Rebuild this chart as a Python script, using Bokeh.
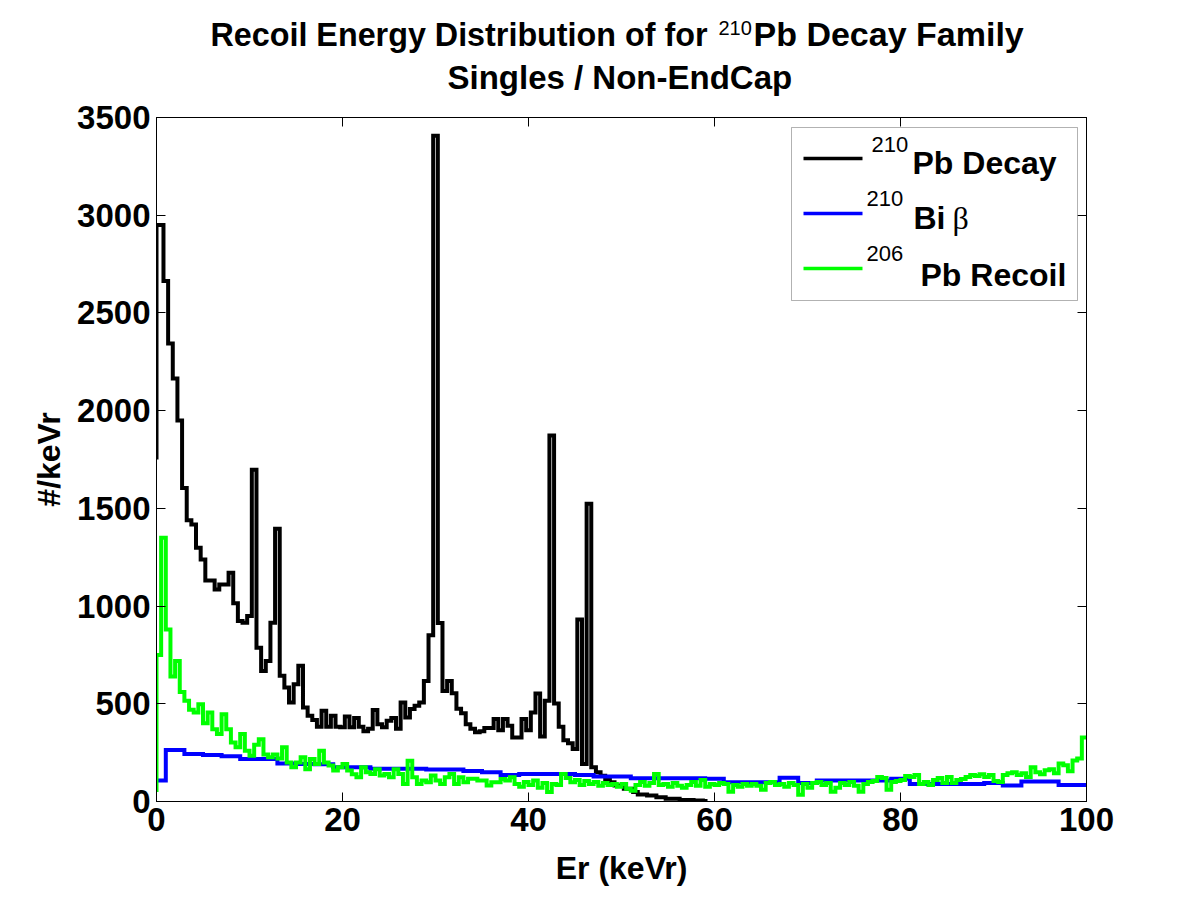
import numpy as np
from bokeh.plotting import figure
from bokeh.layouts import column
from bokeh.models import LinearAxis, FixedTicker, Label, BoxAnnotation, Range1d
from bokeh.core.properties import value
from bokeh.embed import file_html
from bokeh.resources import INLINE

FONT = "Liberation Sans"

# ---------------- data ----------------
# 210Pb decay: 0.5 keVr bins centred on 0, 0.5, 1.0, ... (first bin clipped at 0)
pb_decay_bin_width = 0.5
pb_decay_start = 1750
pb_decay_counts = [
    2950, 2950, 2663, 2343, 2165, 1949, 1604, 1439, 1417, 1298,
    1238, 1131, 1131, 1085, 1111, 1111, 1170, 1014, 923, 915,
    949, 1697, 787, 668, 719, 915, 1396, 643, 583, 507,
    600, 694, 481, 439, 417, 383, 464, 383, 439, 383,
    380, 435, 380, 427, 383, 359, 372, 468, 395, 380,
    413, 427, 372, 507, 430, 473, 490, 507, 617, 851,
    3406, 913, 566, 616, 554, 475, 452, 395, 372, 354,
    359, 376, 376, 422, 365, 422, 388, 328, 328, 422,
    365, 456, 553, 332, 515, 1873, 502, 383, 314, 298,
    269, 931, 192, 1524, 175, 150, 132, 115, 98, 82,
    82, 65, 65, 48, 36, 36, 31, 31, 22, 22,
    14, 14, 14, 8, 8, 8, 5, 5, 3,
]

# 210Bi beta: 2 keVr bins (first bin 0-1)
bi_beta_edges = [0, 1] + list(range(3, 100, 2)) + [100]
bi_beta_counts = [
    107, 264, 243, 238, 231, 218, 218, 195, 192, 190,
    175, 175, 167, 167, 167, 164, 164, 156, 150, 136,
    141, 141, 141, 136, 128, 128, 119, 119, 119, 119,
    116, 98, 98, 98, 121, 95, 107, 107, 107, 107,
    116, 90, 90, 90, 90, 95, 82, 102, 102, 85,
    85,
]

# 206Pb recoil: 0.5 keVr bins from 0 to 100
pb_recoil_bin_width = 0.5
pb_recoil_start = 48
pb_recoil_counts = [
    750, 1349, 880, 640, 719, 560, 515, 470, 455, 498,
    400, 455, 370, 345, 447, 370, 302, 277, 345, 260,
    234, 290, 319, 240, 226, 240, 220, 277, 200, 175,
    200, 226, 165, 218, 192, 260, 200, 184, 158, 175,
    192, 158, 140, 124, 175, 150, 141, 165, 133, 141,
    124, 165, 141, 90, 209, 124, 90, 107, 99, 133,
    107, 90, 124, 141, 90, 124, 99, 116, 116, 107,
    107, 82, 99, 99, 115, 107, 124, 90, 75, 100,
    85, 107, 70, 95, 48, 90, 85, 141, 120, 98,
    110, 85, 105, 90, 100, 80, 95, 85, 90, 75,
    90, 65, 55, 85, 100, 80, 95, 141, 85, 90,
    75, 95, 80, 70, 85, 100, 80, 110, 75, 90,
    85, 95, 90, 50, 85, 75, 90, 80, 90, 80,
    60, 95, 100, 85, 90, 75, 95, 85, 35, 90,
    70, 95, 100, 85, 95, 50, 70, 95, 85, 100,
    80, 50, 90, 100, 105, 125, 120, 60, 100, 105,
    110, 130, 125, 135, 90, 100, 85, 110, 120, 95,
    125, 95, 110, 115, 125, 135, 130, 140, 125, 135,
    105, 100, 135, 145, 150, 135, 145, 125, 175, 150,
    140, 160, 165, 145, 195, 185, 155, 210, 220, 328,
]

x_ticks = [0, 20, 40, 60, 80, 100]
y_ticks = [0, 500, 1000, 1500, 2000, 2500, 3000, 3500]
legend_labels = [("210", "Pb Decay"), ("210", "Bi "), ("206", " Pb Recoil")]
colors = ["#000000", "#0000ff", "#00ff00"]


def step_path(edges, counts, start=None):
    xs, ys = [], []
    if start is not None:
        xs.append(edges[0]); ys.append(start)
    for i, c in enumerate(counts):
        xs += [edges[i], edges[i + 1]]
        ys += [c, c]
    return xs, ys


n = len(pb_decay_counts)
pb_decay_edges = [0.0] + [pb_decay_bin_width * (k + 0.5) for k in range(n)]
m = len(pb_recoil_counts)
pb_recoil_edges = [pb_recoil_bin_width * k for k in range(m + 1)]

W = 1184
TITLE_H = 100
FRAME_LEFT, FRAME_W, FRAME_TOP, FRAME_H = 156, 930, 117, 684

# ---------------- title strip ----------------
# the column layout aligns this strip's frame with the main frame, so its
# x range is expressed in page pixels of that frame
t = figure(width=W, height=TITLE_H,
           x_range=Range1d(FRAME_LEFT, FRAME_LEFT + FRAME_W), y_range=Range1d(TITLE_H, 0),
           output_backend="svg", toolbar_location=None, min_border=0,
           min_border_left=FRAME_LEFT, min_border_right=W - FRAME_LEFT - FRAME_W,
           x_axis_location=None, y_axis_location=None)
t.grid.visible = False
t.outline_line_color = None


def ttext(txt, x, baseline, size_px, style="bold", align="left"):
    # glyph anchor compensated so that `baseline` is the text baseline
    t.text(x=[x], y=[baseline - 0.4 * size_px], text=[txt], text_font=value(FONT),
           text_font_size=f"{size_px}px", text_font_style=style, text_align=align,
           text_baseline="alphabetic", text_color="black")


ttext("Recoil Energy Distribution of for", 707, 47, 32.3, align="right")
ttext("210", 718, 35, 20, style="normal")
ttext("Pb Decay Family", 753, 47, 34)
ttext("Singles / Non-EndCap", 447, 90, 33)

# ---------------- main figure ----------------
p = figure(frame_width=FRAME_W, frame_height=FRAME_H,
           x_range=Range1d(0, 100), y_range=Range1d(0, 3500),
           output_backend="svg", toolbar_location=None,
           min_border_left=FRAME_LEFT, min_border_right=W - FRAME_LEFT - FRAME_W,
           min_border_top=FRAME_TOP - TITLE_H, min_border_bottom=80)
p.grid.visible = False
p.outline_line_color = "black"
p.background_fill_color = "white"
p.border_fill_color = "white"

lw = 4
xs, ys = step_path(pb_decay_edges, pb_decay_counts, pb_decay_start)
p.line(xs, ys, color=colors[0], line_width=lw, line_join="miter")
xs, ys = step_path(bi_beta_edges, bi_beta_counts)
p.line(xs, ys, color=colors[1], line_width=lw, line_join="miter")
xs, ys = step_path(pb_recoil_edges, pb_recoil_counts, pb_recoil_start)
p.line(xs, ys, color=colors[2], line_width=lw, line_join="miter")

# axes
for ax, ticks in ((p.xaxis[0], x_ticks), (p.yaxis[0], y_ticks)):
    ax.ticker = FixedTicker(ticks=ticks)
    ax.major_tick_in = 9
    ax.major_tick_out = 0
    ax.minor_tick_line_color = None
    ax.axis_line_color = "black"
    ax.major_tick_line_color = "black"
    ax.major_label_text_font = FONT
    ax.major_label_text_font_style = "bold"
    ax.major_label_text_font_size = "33px"
    ax.major_label_text_color = "black"
    ax.axis_label_text_font = FONT
    ax.axis_label_text_font_style = "bold"
    ax.axis_label_text_font_size = "32px"
    ax.axis_label_text_color = "black"

p.xaxis[0].axis_label = "Er (keVr)"
p.xaxis[0].major_label_standoff = 6
p.xaxis[0].axis_label_standoff = 16
p.yaxis[0].axis_label = "#/keVr"
p.yaxis[0].major_label_standoff = 6
p.yaxis[0].axis_label_standoff = 7

for loc, ticks in (("above", x_ticks), ("right", y_ticks)):
    ax = LinearAxis(ticker=FixedTicker(ticks=ticks))
    ax.major_tick_in = 9
    ax.major_tick_out = 0
    ax.minor_tick_line_color = None
    ax.major_label_text_font_size = "8px"
    ax.major_label_text_color = None
    ax.major_label_standoff = 0
    p.add_layout(ax, loc)


def lab(text, x, y, size_px, style="normal", font=FONT):
    # Label y anchor compensated so that y is the text baseline
    p.add_layout(Label(x=x, y=y + 0.4 * size_px, x_units="screen", y_units="screen", text=text,
                       text_font=font, text_font_size=f"{size_px}px", text_font_style=style,
                       text_align="left", text_baseline="alphabetic", text_color="black"))


# legend (screen units relative to the frame's bottom-left corner)
p.add_layout(BoxAnnotation(left=635, right=921, bottom=501, top=674,
                           left_units="screen", right_units="screen",
                           bottom_units="screen", top_units="screen",
                           fill_color="white", fill_alpha=1.0,
                           line_color="black", line_width=1, level="annotation"))
line_y = [643, 588, 533]
sup_x = [715, 710, 710]
sup_y = [648, 594, 539]
main_x = [756, 757, 764]
main_y = [626, 571, 514]
for i, (sup, main) in enumerate(legend_labels):
    p.add_layout(BoxAnnotation(left=647, right=706, bottom=line_y[i] - 1.75, top=line_y[i] + 1.75,
                               left_units="screen", right_units="screen",
                               bottom_units="screen", top_units="screen",
                               fill_color=colors[i], fill_alpha=1.0, line_color=None,
                               level="annotation"))
    lab(sup, sup_x[i], sup_y[i], 22)
    lab(main, main_x[i], main_y[i], 32, style="bold")
lab("\u03b2", 796, 571, 32, font="Liberation Serif")

layout = column(t, p, spacing=0)
open("out.html", "w").write(file_html(layout, INLINE))
